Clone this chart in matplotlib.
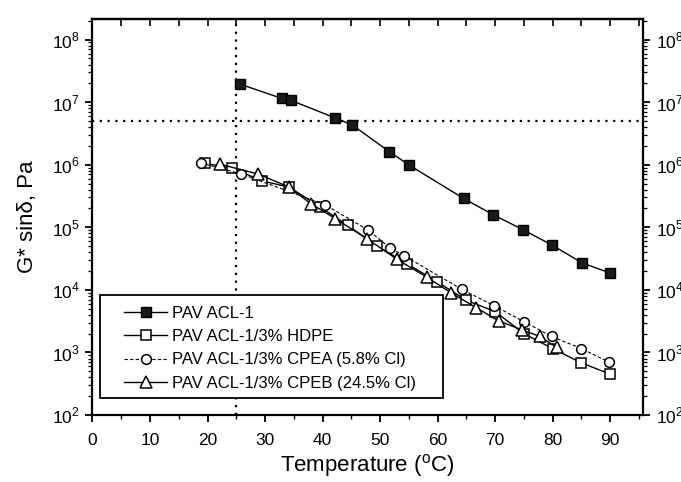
import matplotlib
matplotlib.use("Agg")
import matplotlib.pyplot as plt
from matplotlib.patches import Rectangle
from matplotlib.ticker import FixedLocator, NullFormatter, FuncFormatter
import numpy as np

plt.rcParams['font.family'] = ['Liberation Sans', 'DejaVu Sans']
plt.rcParams['mathtext.fontset'] = 'custom'
plt.rcParams['mathtext.rm'] = 'Liberation Sans'

# G* sin(delta) vs temperature
acl_t = [25.6, 32.9, 34.5, 42.2, 45.2, 51.6, 55.1, 64.5, 69.7, 74.8, 79.9, 85.1, 90.0]
acl_g = [1.95e7, 1.15e7, 1.07e7, 5.6e6, 4.3e6, 1.62e6, 9.8e5, 2.9e5, 1.58e5, 9.2e4, 5.2e4, 2.7e4, 1.86e4]

hdpe_t = [19.5, 24.3, 29.5, 34.2, 39.6, 44.4, 49.5, 54.7, 59.9, 65.0, 70.0, 75.0, 80.0, 85.0, 90.0]
hdpe_g = [1.05e6, 8.9e5, 5.5e5, 4.4e5, 2.1e5, 1.07e5, 5.0e4, 2.6e4, 1.35e4, 6.8e3, 4.5e3, 2.0e3, 1.15e3, 680, 450]

cpea_t = [18.8, 25.9, 40.4, 47.9, 51.7, 54.2, 64.2, 69.8, 75.0, 79.8, 85.0, 89.8]
cpea_g = [1.07e6, 7.1e5, 2.3e5, 9.1e4, 4.7e4, 3.5e4, 1.02e4, 5.6e3, 3.1e3, 1.8e3, 1.15e3, 700]

cpeb_t = [22.2, 28.8, 34.2, 37.9, 42.2, 47.8, 52.9, 58.1, 62.4, 66.7, 70.6, 74.6, 77.8, 80.7]
cpeb_g = [1.02e6, 7.1e5, 4.4e5, 2.4e5, 1.38e5, 6.5e4, 3.1e4, 1.6e4, 8.9e3, 5.2e3, 3.2e3, 2.3e3, 1.8e3, 1.2e3]

ref_temp = 25
ref_g = 5e6

decades = 10.0 ** np.arange(2, 9)
minors = [m * d for d in 10.0 ** np.arange(2, 9) for m in range(2, 10) if m * d < 10 ** 8.33]

fig = plt.figure(figsize=(6.81, 4.82), dpi=100)
ax = fig.add_axes([0.1358, 0.139, 0.8084, 0.8216])

ax.plot(acl_t, acl_g, '-', color='black', lw=1.0, marker='s', ms=7,
        mfc='#1a1a1a', mec='black', label='PAV ACL-1')
ax.plot(hdpe_t, hdpe_g, '-', color='black', lw=1.0, marker='s', ms=7,
        mfc='white', mec='black', mew=1.1, label='PAV ACL-1/3% HDPE')
ax.plot(cpea_t, cpea_g, linestyle=(0, (3, 2)), color='black', lw=0.8, marker='o', ms=7,
        mfc='white', mec='black', mew=1.1, label='PAV ACL-1/3% CPEA (5.8% Cl)')
ax.plot(cpeb_t, cpeb_g, '-', color='black', lw=1.0, marker='^', ms=8,
        mfc='white', mec='black', mew=1.1, label='PAV ACL-1/3% CPEB (24.5% Cl)')

ax.axhline(ref_g, color='black', lw=1.6, linestyle=(0, (1, 2.5)), zorder=1)
ax.axvline(ref_temp, color='black', lw=1.6, linestyle=(0, (1, 2.5)), zorder=1)

ax.set_yscale('log')
ax.set_xlim(0, 95.7)
ax.set_ylim(1e2, 10 ** 8.33)

ax.xaxis.set_major_locator(FixedLocator(np.arange(0, 91, 10)))
ax.xaxis.set_minor_locator(FixedLocator(np.arange(5, 96, 10)))
ax.yaxis.set_major_locator(FixedLocator(decades))
ax.yaxis.set_minor_locator(FixedLocator(minors))
ax.yaxis.set_minor_formatter(NullFormatter())
ax.yaxis.set_major_formatter(FuncFormatter(lambda v, p: r'$10^{%d}$' % round(np.log10(v))))

ax.tick_params(axis='x', which='major', direction='out', length=5, width=1.3, labelsize=12.5, pad=8)
ax.tick_params(axis='x', which='minor', direction='out', length=3, width=1.0)
ax.tick_params(axis='y', which='major', direction='out', length=5, width=1.3, labelsize=12.5,
               left=True, right=True, labelleft=True, labelright=True, pad=4)
ax.tick_params(axis='y', which='minor', direction='out', length=3, width=0.9, left=True, right=True)

top = ax.secondary_xaxis('top')
top.xaxis.set_major_locator(FixedLocator(np.arange(0, 96, 5)))
top.tick_params(direction='in', length=5, width=1.2, labeltop=False)

for s in ax.spines.values():
    s.set_linewidth(1.6)
top.spines['top'].set_linewidth(1.6)

ax.set_xlabel('Temperature ($^{\\mathrm{o}}$C)', fontsize=16, labelpad=3)
ax.set_ylabel('G* sin\u03b4, Pa', fontsize=16, labelpad=10)

# legend box drawn separately so the entries can sit with a wider left margin
box = Rectangle((0.0136, 0.043), 0.623, 0.260, transform=ax.transAxes,
                facecolor='white', edgecolor='black', lw=1.3, zorder=5)
ax.add_patch(box)
leg = ax.legend(loc='upper left', bbox_to_anchor=(0.057, 0.276), frameon=False,
                fontsize=12, handlelength=2.6, handletextpad=0.3, labelspacing=0.5,
                borderaxespad=0, borderpad=0)
leg.set_zorder(6)

fig.savefig('out.png', dpi=100)
